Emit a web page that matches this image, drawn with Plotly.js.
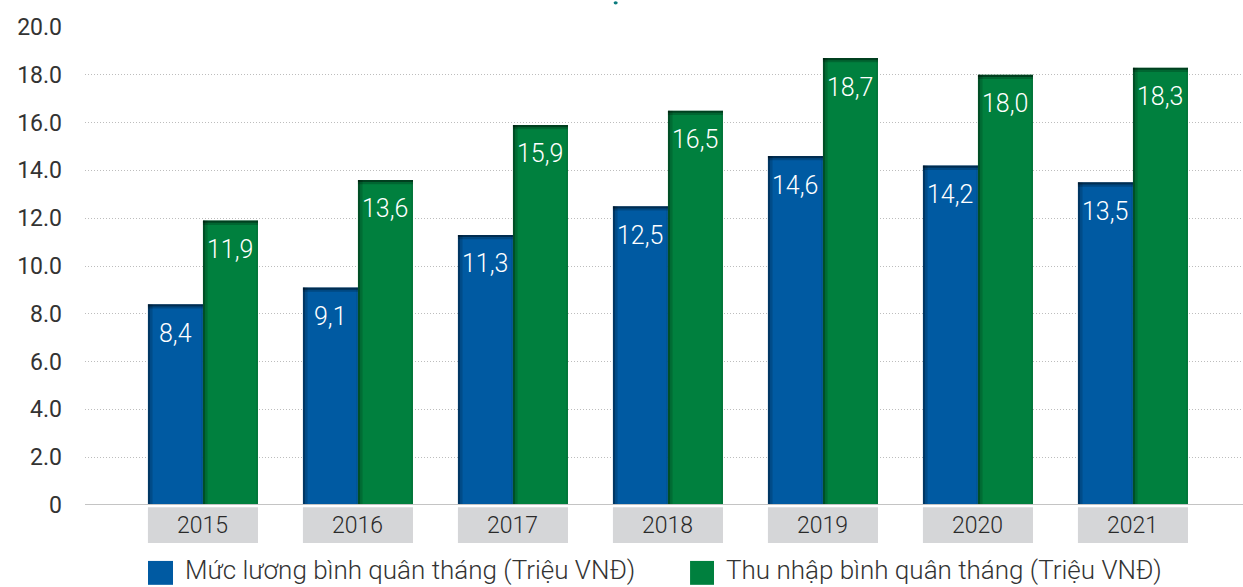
<!DOCTYPE html>
<html>
<head>
<meta charset="utf-8">
<script src="https://cdn.plot.ly/plotly-3.0.1.min.js"></script>
<style>html,body{margin:0;padding:0;background:#fff}#chart{width:1243px;height:587px}</style>
</head>
<body>
<div id="chart"></div>
<script>
const categories = ['2015','2016','2017','2018','2019','2020','2021'];
const wageValues = [8.4, 9.1, 11.3, 12.5, 14.6, 14.2, 13.5];
const incomeValues = [11.9, 13.6, 15.9, 16.5, 18.7, 18.0, 18.3];
const seriesNames = ['Mức lương bình quân tháng (Triệu VNĐ)', 'Thu nhập bình quân tháng (Triệu VNĐ)'];
const yTickVals = [0, 2, 4, 6, 8, 10, 12, 14, 16, 18, 20];
const yTickText = ['0', '2.0', '4.0', '6.0', '8.0', '10.0', '12.0', '14.0', '16.0', '18.0', '20.0'];

const BLUE = '#005aa2';
const GREEN = '#00803e';
const FONT = 'Roboto, "Noto Sans", sans-serif';
const fmt = v => v.toFixed(1).replace('.', ',');

const barW = 0.355;
const traces = [
  {type:'bar', name:seriesNames[0], x:categories, y:wageValues, marker:{color:BLUE}, showlegend:false, hoverinfo:'x+y'},
  {type:'bar', name:seriesNames[1], x:categories, y:incomeValues, marker:{color:GREEN}, showlegend:false, hoverinfo:'x+y'}
];

const shapes = [];
const annotations = [];

// bar edge shading (left + top), built from data
[[wageValues, -barW], [incomeValues, 0]].forEach(([vals, off]) => {
  vals.forEach((v, i) => {
    const x0 = i + off, x1 = i + off + barW;
    shapes.push({type:'rect', xref:'x', yref:'y', x0:x0, x1:x0 + 0.014, y0:0, y1:v, line:{width:0}, fillcolor:'rgba(0,0,0,0.38)', layer:'above'});
    shapes.push({type:'rect', xref:'x', yref:'y', x0:x0 + 0.014, x1:x0 + 0.03, y0:0, y1:v, line:{width:0}, fillcolor:'rgba(0,0,0,0.15)', layer:'above'});
    shapes.push({type:'rect', xref:'x', yref:'y', x1:x1, x0:x1 - 0.01, y0:0, y1:v, line:{width:0}, fillcolor:'rgba(0,0,0,0.10)', layer:'above'});
    shapes.push({type:'rect', xref:'x', yref:'y', x0:x0, x1:x1, y0:v - 0.09, y1:v, line:{width:0}, fillcolor:'rgba(0,0,0,0.5)', layer:'above'});
    shapes.push({type:'rect', xref:'x', yref:'y', x0:x0, x1:x1, y0:v - 0.18, y1:v - 0.09, line:{width:0}, fillcolor:'rgba(0,0,0,0.2)', layer:'above'});
  });
});

// value labels
wageValues.forEach((v, i) => annotations.push({xref:'x', yref:'y', x:i - barW/2, y:v, yshift:-29, yanchor:'middle', xanchor:'center', showarrow:false, text:fmt(v), font:{family:FONT, size:25, color:'#ffffff', weight:300}}));
incomeValues.forEach((v, i) => annotations.push({xref:'x', yref:'y', x:i + barW/2, y:v, yshift:-29, yanchor:'middle', xanchor:'center', showarrow:false, text:fmt(v), font:{family:FONT, size:25, color:'#ffffff', weight:300}}));

// category boxes
categories.forEach((c, i) => {
  shapes.push({type:'rect', xref:'x', yref:'paper', x0:i - barW, x1:i + barW, y0:-0.0795, y1:-0.0045, line:{width:0}, fillcolor:'#d5d6d8', layer:'below'});
  annotations.push({xref:'x', yref:'paper', x:i, y:-0.042, xanchor:'center', yanchor:'middle', showarrow:false, text:c, font:{family:FONT, size:23, color:'#2a2a2a', weight:300}});
});

// zero line
shapes.push({type:'line', xref:'paper', yref:'y', x0:0, x1:1, y0:0, y1:0, line:{color:'#c4c4c4', width:2}, layer:'above'});

// legend (custom)
const legendItems = [[BLUE, 0.0544, 0.0760, 0.0846], [GREEN, 0.5225, 0.5432, 0.5518]];
legendItems.forEach(([col, sx0, sx1, tx], k) => {
  shapes.push({type:'rect', xref:'paper', yref:'paper', x0:sx0, x1:sx1, y0:-0.167, y1:-0.117, line:{width:0}, fillcolor:col});
  annotations.push({xref:'paper', yref:'paper', x:tx, y:-0.137, xanchor:'left', yanchor:'middle', showarrow:false, text:seriesNames[k], font:{family:FONT, size:26, color:'#333333', weight:300}});
});

// truncated title dot
shapes.push({type:'circle', xref:'paper', yref:'paper', x0:0.4565, x1:0.4600, y0:1.047, y1:1.054, line:{width:0}, fillcolor:'#0b7b7d'});

const layout = {
  width:1243, height:587,
  margin:{l:85, r:0, t:27, b:82},
  paper_bgcolor:'#ffffff', plot_bgcolor:'#ffffff',
  barmode:'group', bargap:0.29, bargroupgap:0,
  showlegend:false,
  font:{family:FONT, color:'#333333'},
  xaxis:{type:'category', range:[-0.761, 6.71], showticklabels:false, showgrid:false, zeroline:false, showline:false, ticks:''},
  yaxis:{range:[0, 20], tickvals:yTickVals, ticktext:yTickText, showgrid:true, gridcolor:'#bdbdbd', griddash:'1px,2px', gridwidth:1, zeroline:false, showline:false, ticks:'', ticklabelstandoff:22, tickfont:{family:FONT, size:23, color:'#333333', weight:400}},
  shapes:shapes,
  annotations:annotations
};

Plotly.newPlot('chart', traces, layout, {displayModeBar:false, staticPlot:true});
</script>
</body>
</html>
